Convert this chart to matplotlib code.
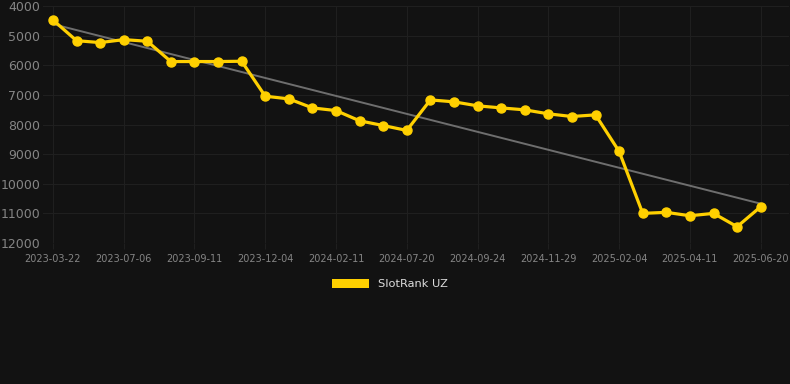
import numpy as np
import matplotlib
matplotlib.use("Agg")
import matplotlib.pyplot as plt
from matplotlib.patches import Patch

# dates for each point (every third one is a tick label)
dates = ['2023-03-22', '2023-05-01', '2023-06-05', '2023-07-06', '2023-07-28', '2023-08-20',
         '2023-09-11', '2023-10-10', '2023-11-06', '2023-12-04', '2023-12-28', '2024-01-20',
         '2024-02-11', '2024-04-05', '2024-05-30', '2024-07-20', '2024-08-11', '2024-09-02',
         '2024-09-24', '2024-10-16', '2024-11-07', '2024-11-29', '2024-12-21', '2025-01-13',
         '2025-02-04', '2025-02-25', '2025-03-20', '2025-04-11', '2025-05-05', '2025-05-28',
         '2025-06-20']
rank = [4470, 5170, 5235, 5135, 5190, 5875, 5875, 5875, 5865, 7045, 7135, 7440, 7530,
        7875, 8035, 8200, 7170, 7235, 7370, 7440, 7505, 7640, 7730, 7675, 8910, 11000,
        10965, 11080, 11000, 11450, 10775]

bg = '#121212'
gold = '#FFD000'
txt = '#858585'

fig = plt.figure(figsize=(7.9, 3.84), dpi=100, facecolor=bg)
ax = fig.add_axes([43 / 790, 141 / 384, 746 / 790, 237 / 384], facecolor=bg)

x = np.arange(len(dates))
k, b = np.polyfit(x, rank, 1)
ax.plot([x[0], x[-1]], [k * x[0] + b, k * x[-1] + b], color='#6e6e6e', lw=1.4, zorder=2)
ax.plot(x, rank, color=gold, lw=2.3, marker='o', ms=6.5, zorder=3)

ax.set_ylim(12000, 4000)
ax.set_yticks(range(4000, 12001, 1000))
ax.set_xlim(-0.42, 31.2)
ax.set_xticks(x[::3])
ax.set_xticklabels(dates[::3])
ax.grid(True, color='#1f1f1f', lw=0.8)
for s in ax.spines.values():
    s.set_visible(False)
ax.tick_params(axis='y', colors=txt, labelsize=9, length=0, pad=2)
ax.tick_params(axis='x', colors=txt, labelsize=7, length=4, pad=4, color='#1f1f1f')

leg = fig.legend(handles=[Patch(facecolor=gold, label='SlotRank UZ')], loc='center',
                 bbox_to_anchor=(390 / 790, 1 - 284 / 384), frameon=False,
                 handlelength=3.3, handleheight=0.9, fontsize=8.2)
for t in leg.get_texts():
    t.set_color('#dddddd')

fig.savefig('out.png', facecolor=bg)
